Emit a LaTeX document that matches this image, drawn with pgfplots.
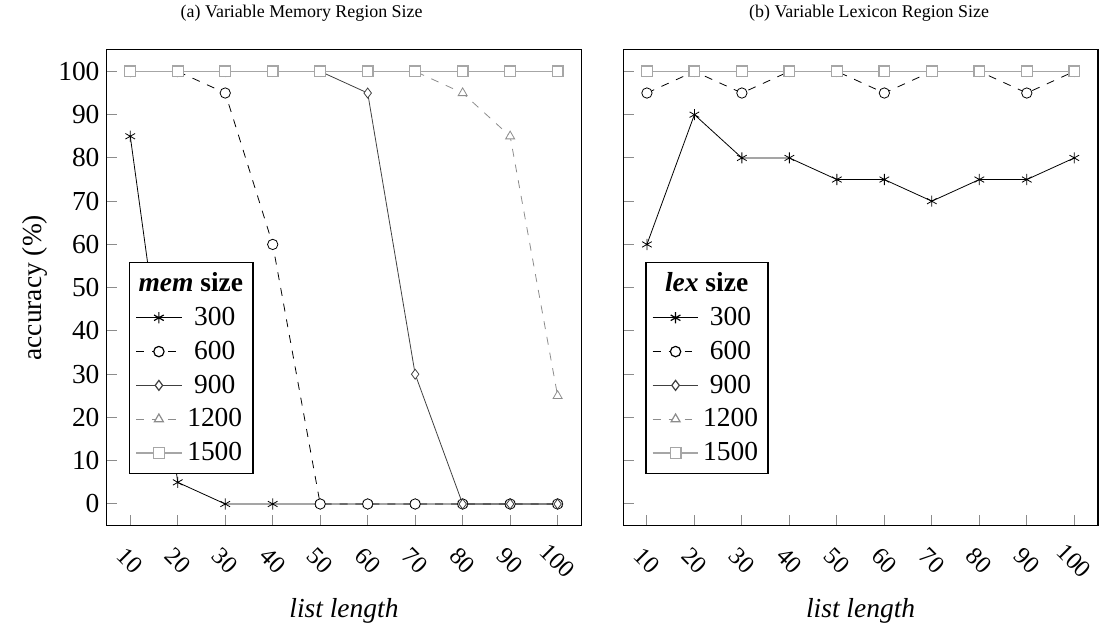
\documentclass[border=0pt]{standalone}
\usepackage{pgfplots}
\pgfplotsset{compat=1.18}
\usepackage{fontspec}
\setmainfont{Liberation Serif}
\begin{document}
\pgfplotsset{
  s300/.style={black, solid, mark=asterisk, mark size=2.8pt, mark options={solid}},
  s600/.style={black, dash pattern=on 4pt off 4pt, mark=*, mark size=2.6pt, mark options={solid, fill=white, draw=black}},
  s900/.style={black!75, solid, mark=diamond*, mark size=2.5pt, mark options={solid, fill=white, draw=black!75}},
  s1200/.style={black!45, dash pattern=on 4pt off 4pt, mark=triangle*, mark size=2.6pt, mark options={solid, fill=white, draw=black!45}},
  s1500/.style={black!35, solid, line width=0.6pt, mark=square*, mark size=2.7pt, mark options={solid, fill=white, draw=black!35, line width=0.6pt}},
  common/.style={
    width=238.5pt, height=239pt, scale only axis,
    xmin=5, xmax=105, ymin=-5, ymax=105,
    xtick={10,20,...,100}, ytick={0,10,...,100},
    tick align=inside, major tick length=5.5pt,
    tick style={black!45, line width=0.5pt},
    xtick pos=bottom, ytick pos=left,
    axis line style={black, line width=0.6pt},
    /pgf/number format/assume math mode=true,
    yticklabel style={font=\fontsize{13.8}{16}\selectfont},
    xticklabel style={font=\fontsize{12.3}{14}\selectfont, anchor=center, inner sep=0pt, rotate=-45, xshift=12.5pt, yshift=-12.5pt},
    xlabel={\textit{list length}},
    xlabel style={font=\fontsize{13.8}{16}\selectfont, at={(axis description cs:0.5,-0.18)}, anchor=center},
    legend cell align=center,
    legend style={at={(0.047,0.554)}, anchor=north west, draw=black, line width=0.6pt,
      font=\fontsize{13.8}{16}\selectfont, inner sep=3pt, row sep=2.3pt},
    legend image code/.code={\draw[mark repeat=2,mark phase=2] plot coordinates {(0pt,0pt)(11.5pt,0pt)(23pt,0pt)};},
  }
}
\begin{tikzpicture}
\useasboundingbox (0,0) rectangle (550.5pt,313pt);
\begin{axis}[common, at={(51pt,49pt)}, anchor=south west,
  ylabel={accuracy (\%)},
  ylabel style={font=\fontsize{13.8}{16}\selectfont, at={(axis description cs:-0.151,0.5)}, anchor=center}]
\addlegendimage{empty legend}
\addlegendentry{\hspace*{-24pt}\textbf{\textit{mem} size}}
\addplot[s300] coordinates {(10,85)(20,5)(30,0)(40,0)(50,0)(60,0)(70,0)(80,0)(90,0)(100,0)};
\addlegendentry{300}
\addplot[s600] coordinates {(10,100)(20,100)(30,95)(40,60)(50,0)(60,0)(70,0)(80,0)(90,0)(100,0)};
\addlegendentry{600}
\addplot[s900] coordinates {(10,100)(20,100)(30,100)(40,100)(50,100)(60,95)(70,30)(80,0)(90,0)(100,0)};
\addlegendentry{900}
\addplot[s1200] coordinates {(10,100)(20,100)(30,100)(40,100)(50,100)(60,100)(70,100)(80,95)(90,85)(100,25)};
\addlegendentry{1200}
\addplot[s1500] coordinates {(10,100)(20,100)(30,100)(40,100)(50,100)(60,100)(70,100)(80,100)(90,100)(100,100)};
\addlegendentry{1500}
\end{axis}
\begin{axis}[common, at={(310.5pt,49pt)}, anchor=south west, yticklabels={}]
\addlegendimage{empty legend}
\addlegendentry{\hspace*{-24pt}\textbf{\textit{lex} size}}
\addplot[s300] coordinates {(10,60)(20,90)(30,80)(40,80)(50,75)(60,75)(70,70)(80,75)(90,75)(100,80)};
\addlegendentry{300}
\addplot[s600] coordinates {(10,95)(20,100)(30,95)(40,100)(50,100)(60,95)(70,100)(80,100)(90,95)(100,100)};
\addlegendentry{600}
\addplot[s900] coordinates {(10,100)(20,100)(30,100)(40,100)(50,100)(60,100)(70,100)(80,100)(90,100)(100,100)};
\addlegendentry{900}
\addplot[s1200] coordinates {(10,100)(20,100)(30,100)(40,100)(50,100)(60,100)(70,100)(80,100)(90,100)(100,100)};
\addlegendentry{1200}
\addplot[s1500] coordinates {(10,100)(20,100)(30,100)(40,100)(50,100)(60,100)(70,100)(80,100)(90,100)(100,100)};
\addlegendentry{1500}
\end{axis}
\node[font=\fontsize{9}{10}\selectfont] at (149pt,306.5pt) {(a) Variable Memory Region Size};
\node[font=\fontsize{9}{10}\selectfont] at (434pt,306.5pt) {(b) Variable Lexicon Region Size};
\end{tikzpicture}
\end{document}
